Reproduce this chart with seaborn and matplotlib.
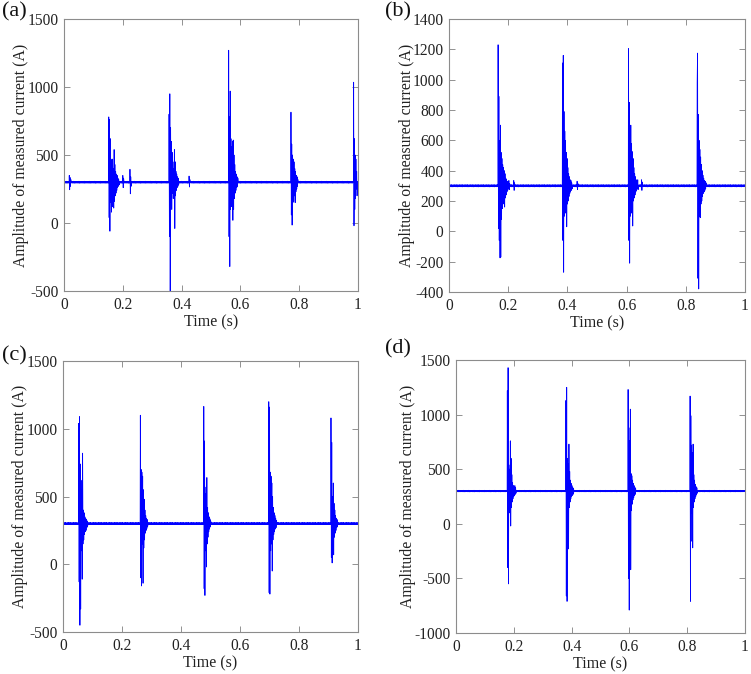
import numpy as np
import pandas as pd
import seaborn as sns
import matplotlib
matplotlib.use("Agg")
import matplotlib.pyplot as plt

# ---- data (values in A, burst onset times in s) ----
BASE = 300
# small ripple riding on the 300 A baseline
ripple = [4, -5, 6, -3, 5, -6, 3, -4, 6, -4, 5, -6, 3, -4, 7,
          -3, 4, -7, 5, -3, 2, -5, 6, -4, 3, -6, 5, -2, 6, -5]

a_starts = [0.018, 0.152, 0.200, 0.224, 0.357, 0.425, 0.560, 0.772, 0.985]
a_bursts = [
    [350, 245, 335, 270, 320],
    [780, 40, 760, -60, 620, 150, 470, 80, 460, 120, 470, 180, 400, 110,
     540, 160, 430, 200, 380, 220, 360, 240, 350, 260, 330, 270, 320, 280],
    [350, 260, 330],
    [395, 215, 340, 270],
    [800, -100, 950, -500, 700, 150, 600, 100, 520, 220, 450, 180, 400, 250,
     540, -40, 450, 200, 380, 240, 360, 260, 340, 270, 330, 280],
    [345, 265, 320],
    [1270, -100, 780, -320, 970, 100, 620, 120, 560, 150, 600, 20, 610, 100,
     500, 180, 430, 220, 380, 240, 360, 260, 340, 270, 330],
    [815, 60, 580, -15, 500, 150, 470, 160, 450, 200, 400, 150, 380, 230,
     350, 250, 340, 270, 320],
    [1035, -20, 620, 100, 500, 180, 470, 250, 380, 200],
]

b_starts = [0.165, 0.218, 0.383, 0.432, 0.606, 0.650, 0.838]
b_bursts = [
    [1230, 20, 890, -60, 600, -175, 700, -170, 520, 80, 480, 150, 440, 180,
     420, 200, 400, 160, 380, 220, 350, 240, 340, 260, 330, 270, 320, 280,
     335, 275, 315],
    [335, 270, 320],
    [1110, -60, 1160, -270, 790, 100, 660, 120, 600, 150, 520, 30, 480, 180,
     420, 200, 380, 230, 360, 250, 340, 260, 335, 270, 320, 280],
    [330, 275, 315],
    [1205, -60, 850, -210, 560, 100, 700, 120, 580, 150, 525, 35, 480, 200,
     420, 220, 380, 240, 360, 260, 340, 270, 330, 280, 340, 275],
    [340, 270, 325],
    [980, 1175, -310, 770, -380, 600, 100, 540, 90, 490, 180, 440, 200, 400,
     230, 370, 250, 350, 260, 335, 270, 330, 280, 320],
]

c_starts = [0.053, 0.262, 0.477, 0.697, 0.908]
c_bursts = [
    [1040, -130, 1090, -450, 740, -330, 620, 100, 550, -110, 820, 150, 400,
     180, 380, 220, 350, 240, 340, 250, 330, 270, 320, 280],
    [1100, -100, 700, -160, 680, 150, 650, -140, 550, 120, 480, 180, 400,
     230, 360, 250, 340, 265, 330, 280],
    [1165, -180, 910, -230, 520, 100, 570, -20, 640, 150, 420, 200, 380, 240,
     350, 260, 335, 275, 320],
    [1200, -210, 1160, -220, 680, 100, 650, 150, 600, -50, 500, 180, 420,
     220, 380, 240, 360, 260, 340, 270, 325],
    [1080, 50, 900, 10, 500, 150, 600, 70, 450, 200, 400, 230, 360, 250, 340,
     270, 330, 280],
]

d_starts = [0.177, 0.380, 0.595, 0.810]
d_bursts = [
    [1220, -400, 1430, -550, 540, 100, 500, 150, 760, -20, 600, 150, 450,
     200, 380, 230, 350, 250, 340, 260, 350, 270, 330, 280],
    [1130, -660, 1250, -710, 600, 100, 550, -230, 730, 150, 480, 200, 400,
     230, 370, 250, 350, 260, 335, 270, 325],
    [1230, -500, 880, -790, 760, 100, 1050, -420, 460, 120, 440, 180, 400,
     220, 370, 240, 350, 260, 335, 270, 325],
    [1170, -710, 990, 100, 720, -160, 650, -220, 730, 150, 450, 200, 400, 230,
     360, 250, 340, 265, 330, 280],
]

DT_BASE = 0.0006
DT_BURST = 0.0013


def trace(starts, bursts):
    t, y = [], []
    pos, k = 0.0, 0
    for s, vals in zip(starts, bursts):
        while pos < s:
            t.append(pos)
            y.append(BASE + ripple[k % len(ripple)])
            k += 1
            pos += DT_BASE
        for v in vals:
            t.append(pos)
            y.append(v)
            pos += DT_BURST
    while pos <= 1.0:
        t.append(pos)
        y.append(BASE + ripple[k % len(ripple)])
        k += 1
        pos += DT_BASE
    return pd.DataFrame({"t": t, "y": y})


sns.set_theme(style="white")
plt.rcParams["font.family"] = ["Liberation Serif", "DejaVu Serif"]

fig = plt.figure(figsize=(7.51, 6.74), dpi=100)

panels = [
    ("(a)", a_starts, a_bursts, [0.0852, 0.5682, 0.3915, 0.4036], (-500, 1500), 500, (0.002, 0.997)),
    ("(b)", b_starts, b_bursts, [0.598, 0.5668, 0.394, 0.405], (-400, 1400), 200, (0.513, 0.997)),
    ("(c)", c_starts, c_bursts, [0.0839, 0.0623, 0.3928, 0.402], (-500, 1500), 500, (0.002, 0.487)),
    ("(d)", d_starts, d_bursts, [0.6072, 0.0608, 0.3848, 0.405], (-1000, 1500), 500, (0.512, 0.497)),
]

for lab, st, bu, pos, ylim, ystep, labpos in panels:
    ax = fig.add_axes(pos)
    df = trace(st, bu)
    sns.lineplot(data=df, x="t", y="y", color="blue", lw=0.6,
                 estimator=None, sort=False, ax=ax)
    ax.set_xlim(0, 1)
    ax.set_ylim(*ylim)
    ax.set_xticks(np.arange(0, 1.01, 0.2))
    ax.set_xticklabels(["0", "0.2", "0.4", "0.6", "0.8", "1"])
    yt = np.arange(ylim[0], ylim[1] + 1, ystep)
    ax.set_yticks(yt)
    ax.set_yticklabels([str(v) for v in yt])
    ax.tick_params(direction="in", length=4, width=0.6, color="#808080",
                   labelsize=11.2, labelcolor="#222222",
                   top=True, right=True, bottom=True, left=True, pad=4)
    for sp in ax.spines.values():
        sp.set_color("#8c8c8c")
        sp.set_linewidth(0.8)
    ax.set_xlabel("Time (s)", fontsize=11.5, labelpad=1, color="#222222")
    ax.set_ylabel("Amplitude of measured current (A)", fontsize=11.3,
                  labelpad=-1.5, color="#222222")
    fig.text(labpos[0], labpos[1], lab, fontsize=16, ha="left", va="top",
             color="#111111")

fig.savefig("out.png", dpi=100)
